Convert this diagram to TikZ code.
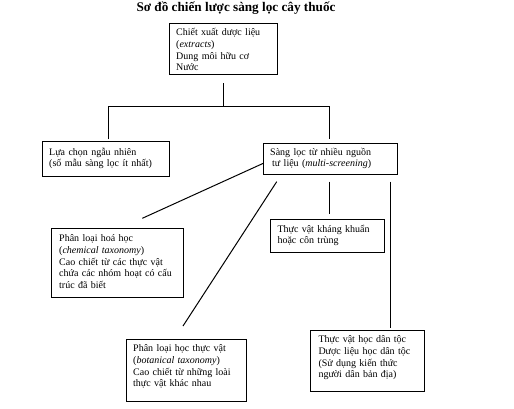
\documentclass[tikz,border=0pt]{standalone}
\usepackage{fontspec}
\setmainfont{Liberation Serif}
\begin{document}
\begin{tikzpicture}[x=1pt,y=-1pt,
  box/.style={draw,line width=1pt,inner sep=0pt,anchor=north west},
  txt/.style={anchor=base west,inner sep=0pt,align=left,font=\fontsize{10}{11.7}\selectfont},
  ln/.style={line width=1pt}]
\useasboundingbox (0,0) rectangle (514,409);
\node[anchor=base,inner sep=0pt,font=\bfseries\fontsize{13.2}{15}\selectfont] (title) at (236,12) {Sơ đồ chiến lược sàng lọc cây thuốc};
% boxes
\node[box,minimum width=107.4pt,minimum height=50.7pt] (A) at (169.3,23.3) {};
\node[box,minimum width=127pt,minimum height=34.7pt] (B) at (42.3,141.3) {};
\node[box,minimum width=134pt,minimum height=31.3pt] (C) at (263.3,142.7) {};
\node[box,minimum width=132pt,minimum height=68.7pt] (D) at (51.3,228.3) {};
\node[box,minimum width=114pt,minimum height=33pt] (E) at (270.3,219.3) {};
\node[box,minimum width=120pt,minimum height=61.7pt] (F) at (126.3,339.3) {};
\node[box,minimum width=114pt,minimum height=60.7pt] (G) at (310.3,330.3) {};
% texts
\node[txt,text width=110pt] (At) at (176,35.8) {Chiết xuất dược liệu\\(\textit{extracts})\\Dung môi hữu cơ\\Nước};
\node[txt,text width=120pt] (Bt) at (49,155.2) {Lựa chọn ngẫu nhiên\\(số mẫu sàng lọc ít nhất)};
\node[txt,text width=125pt] (Ct) at (270,155.2) {Sàng lọc từ nhiều nguồn\\\hspace*{2pt}tư liệu (\textit{multi-screening})};
\node[txt,text width=125pt] (Dt) at (59,241.8) {Phân loại hoá học\\(\textit{chemical taxonomy})\\Cao chiết từ các thực vật\\chứa các nhóm hoạt có cấu\\trúc đã biết};
\node[txt,text width=110pt] (Et) at (277.3,232.2) {Thực vật kháng khuẩn\\hoặc côn trùng};
\node[txt,text width=110pt] (Ft) at (133,351.8) {Phân loại học thực vật\\(\textit{botanical taxonomy})\\Cao chiết từ những loài\\thực vật khác nhau};
\node[txt,text width=110pt] (Gt) at (318.3,342.8) {Thực vật học dân tộc\\Dược liệu học dân tộc\\(Sử dụng kiến thức\\người dân bản địa)};
% connector points
\coordinate (a1) at (223.3,83.3);
\coordinate (a2) at (223.3,106.7);
\coordinate (jl) at (108.3,106.7);
\coordinate (jr) at (329.3,106.7);
\coordinate (bl) at (108.3,139.3);
\coordinate (br) at (329.3,139.3);
\coordinate (c1) at (263.3,163.3);
\coordinate (d1) at (142.3,218.3);
\coordinate (c2) at (276.7,181.7);
\coordinate (f1) at (183,326);
\coordinate (c3) at (329.3,181.7);
\coordinate (e1) at (329.3,214.3);
\coordinate (c4) at (390.3,181.7);
\coordinate (g1) at (390.3,328.3);
\draw[ln] (a1) -- (a2);
\draw[ln] (bl) -- (jl) -- (jr) -- (br);
\draw[ln] (c1) -- (d1);
\draw[ln] (c2) -- (f1);
\draw[ln] (c3) -- (e1);
\draw[ln] (c4) -- (g1);
\end{tikzpicture}
\end{document}
